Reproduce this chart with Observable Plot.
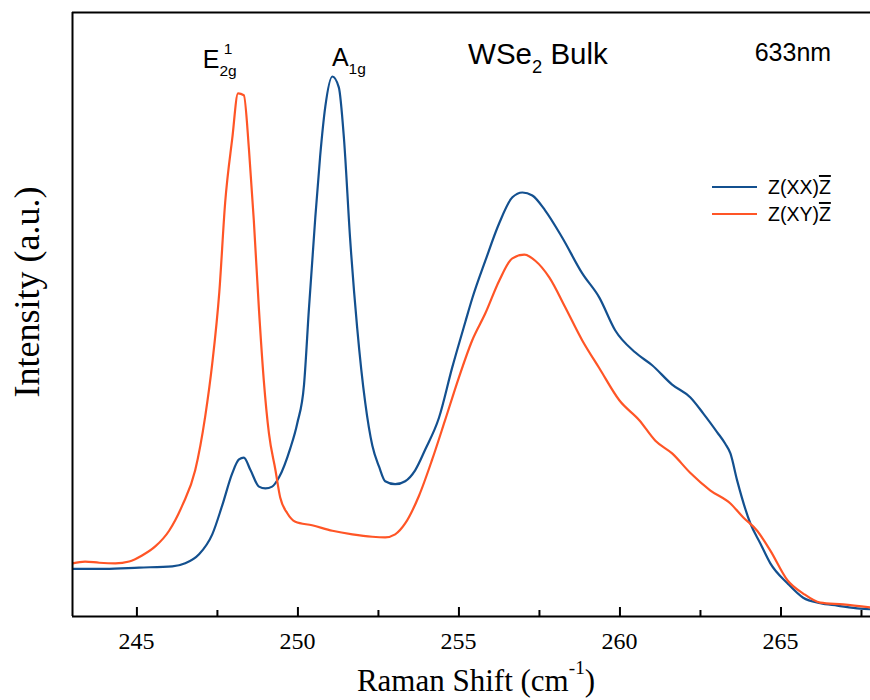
<!DOCTYPE html>
<html><head><meta charset="utf-8">
<script src="https://cdn.jsdelivr.net/npm/d3@7"></script>
<script src="https://cdn.jsdelivr.net/npm/@observablehq/plot@0.6"></script>
<style>
html,body{margin:0;padding:0;background:#fff;overflow:hidden}
#chart{width:870px;height:700px}
</style></head><body><div id="chart"></div>
<script>
// ---- data (Raman shift in cm^-1, intensity in arbitrary units 0-100) ----
const shiftXX = [243.0,244.02,245.07,246.10,246.50,246.93,247.34,247.65,247.96,248.17,248.32,248.53,248.79,248.99,249.20,249.41,249.76,249.98,250.19,250.34,250.54,250.69,250.85,251.07,251.27,251.43,251.62,251.84,252.09,252.31,252.52,252.71,253.02,253.33,253.64,253.95,254.38,254.79,255.20,255.41,255.82,256.25,256.66,256.97,257.28,257.68,258.21,258.83,259.36,259.85,260.48,261.00,261.62,262.18,262.59,263.02,263.27,263.43,263.64,264.05,264.36,264.67,265.20,265.69,266.22,266.75,267.46,267.77];
const intensityXX = [7.9,7.9,8.1,8.3,8.8,10.3,13.6,18.4,23.7,26.0,26.3,24.2,21.5,21.2,21.5,23.0,27.8,32.0,38.4,50.8,66.1,76.2,84.4,89.4,87.6,79.1,62.6,47.8,35.4,28.3,24.8,22.4,21.9,22.4,24.2,27.6,32.9,41.2,48.8,52.6,58.9,65.1,69.4,70.2,69.7,67.2,62.7,56.8,52.8,47.4,43.7,41.6,38.4,36.3,33.6,30.5,28.6,27.0,22.5,15.4,12.1,8.8,5.5,3.1,2.2,1.8,1.3,1.2];
const shiftXY = [243.0,243.39,243.83,244.33,244.76,245.16,245.57,246.00,246.41,246.81,247.12,247.34,247.56,247.74,247.96,248.14,248.32,248.48,248.63,248.79,248.94,249.10,249.30,249.45,249.67,249.92,250.44,251.07,251.69,252.31,252.71,253.02,253.33,253.76,254.17,254.57,255.00,255.41,255.82,256.25,256.66,257.03,257.37,257.81,258.30,258.83,259.36,259.98,260.60,261.10,261.62,262.18,262.80,263.43,263.83,264.26,264.67,265.20,265.69,266.22,266.93,267.77];
const intensityXY = [8.8,9.1,8.9,8.8,9.1,10.1,11.6,14.2,18.4,24.2,33.1,41.9,53.8,68.5,79.1,86.6,86.3,77.3,65.6,50.8,39.1,30.3,24.3,19.7,17.1,15.7,15.1,14.2,13.6,13.2,13.1,13.6,15.4,20.0,26.0,32.5,39.6,45.7,50.2,55.6,59.3,59.9,58.9,56.1,51.2,45.7,41.1,35.8,32.5,29.1,27.0,23.8,20.9,18.7,16.4,14.2,10.9,6.0,3.8,2.3,2.0,1.5];
const seriesNames = ["XX", "XY"];
const seriesColors = ["#13508f", "#ff5526"];
const majorTicks = [245, 250, 255, 260, 265];
const minorTicks = [247.5, 252.5, 257.5, 262.5, 267.5];
const xDomain = [243, 267.78];
const yDomain = [0, 100];
const annotations = [
  {id: "E2g", shift: 247.06, intensity: 90.7},
  {id: "A1g", shift: 251.07, intensity: 91.0},
  {id: "sample", shift: 255.3, intensity: 91.4},
  {id: "laser", shift: 264.2, intensity: 91.9}
];

// ---- build rows ----
const rows = [
  ...shiftXX.map((s, i) => ({shift: s, intensity: intensityXX[i], series: seriesNames[0]})),
  ...shiftXY.map((s, i) => ({shift: s, intensity: intensityXY[i], series: seriesNames[1]}))
];

const W = 870, H = 700, mL = 72, mR = 0, mT = 12, mB = 84;
const frameH = H - mT - mB;
const ink = "#000";
const serif = "Liberation Serif", sans = "Liberation Sans";

const plot = Plot.plot({
  width: W, height: H,
  marginLeft: mL, marginRight: mR, marginTop: mT, marginBottom: mB,
  style: {background: "#fff", color: ink, fontFamily: serif},
  x: {domain: xDomain, axis: null},
  y: {domain: yDomain, axis: null},
  color: {domain: seriesNames, range: seriesColors},
  marks: [
    Plot.line(rows, {x: "shift", y: "intensity", z: "series", stroke: "series", curve: "monotone-x", strokeWidth: 2.2, clip: true}),
    Plot.ruleX(majorTicks, {insetTop: frameH - 9, stroke: ink, strokeWidth: 2}),
    Plot.ruleX(minorTicks, {insetTop: frameH - 6, stroke: ink, strokeWidth: 2}),
    Plot.ruleY([yDomain[0]], {stroke: ink, strokeWidth: 2}),
    Plot.ruleY([yDomain[1]], {stroke: ink, strokeWidth: 2}),
    Plot.ruleX([xDomain[0]], {stroke: ink, strokeWidth: 2})
  ]
});
document.getElementById("chart").appendChild(plot);

// ---- text overlays positioned through Plot's scales ----
const svg = d3.select(plot);
const sx = plot.scale("x"), sy = plot.scale("y");
const X = v => sx.apply(v), Y = v => sy.apply(v);

function rich(parent, x, y, segs, size, family, anchor) {
  const t = parent.append("text").attr("x", x).attr("y", y)
    .attr("font-size", size).attr("font-family", family).attr("fill", ink)
    .attr("text-anchor", anchor || "start");
  let shift = 0, prev = null;
  for (const s of segs) {
    let target = 0, fs = size;
    if (s.k === "sub") { target = size * 0.3; fs = size * 0.62; }
    if (s.k === "sup" || s.k === "stack") { target = -size * 0.55; fs = size * 0.62; }
    const sp = t.append("tspan").text(s.t).attr("font-size", fs).attr("dy", target - shift);
    if (s.k === "bar") sp.style("text-decoration", "overline");
    if (s.k === "stack" && prev) {
      const pl = prev.node().getComputedTextLength();
      const ml = sp.node().getComputedTextLength();
      sp.attr("dx", -(pl + ml) / 2);
    }
    shift = target; prev = sp;
  }
  return t;
}

const g = svg.append("g");

// x tick labels
const frameBottom = Y(yDomain[0]);
for (const v of majorTicks) {
  rich(g, X(v), frameBottom + 33, [{t: String(v)}], 24, serif, "middle");
}

const richMap = {
  E2g: {segs: [{t: "E"}, {t: "2g", k: "sub"}, {t: "1", k: "stack"}], size: 25},
  A1g: {segs: [{t: "A"}, {t: "1g", k: "sub"}], size: 25},
  sample: {segs: [{t: "WSe"}, {t: "2", k: "sub"}, {t: " Bulk"}], size: 29.5},
  laser: {segs: [{t: "633nm"}], size: 25}
};
for (const a of annotations) {
  const r = richMap[a.id];
  rich(g, X(a.shift), Y(a.intensity), r.segs, r.size, sans);
}

// legend
const legX = W - mR - 158, legY0 = 187, legDY = 27;
seriesNames.forEach((name, i) => {
  const y = legY0 + i * legDY;
  g.append("line").attr("x1", legX).attr("x2", legX + 45).attr("y1", y).attr("y2", y)
    .attr("stroke", seriesColors[i]).attr("stroke-width", 2.2);
  rich(g, legX + 56, y + 7, [{t: "Z(" + name + ")"}, {t: "Z", k: "bar"}], 19.5, sans);
});

// axis titles
rich(g, mL + (W - mL - mR) / 2 + 5, 691, [{t: "Raman Shift (cm"}, {t: "-1", k: "sup"}, {t: ")"}], 31, serif, "middle");
rich(g, 0, 0, [{t: "Intensity (a.u.)"}], 36, serif, "middle")
  .attr("transform", "translate(39,292) rotate(-90)");
</script>
</body></html>
